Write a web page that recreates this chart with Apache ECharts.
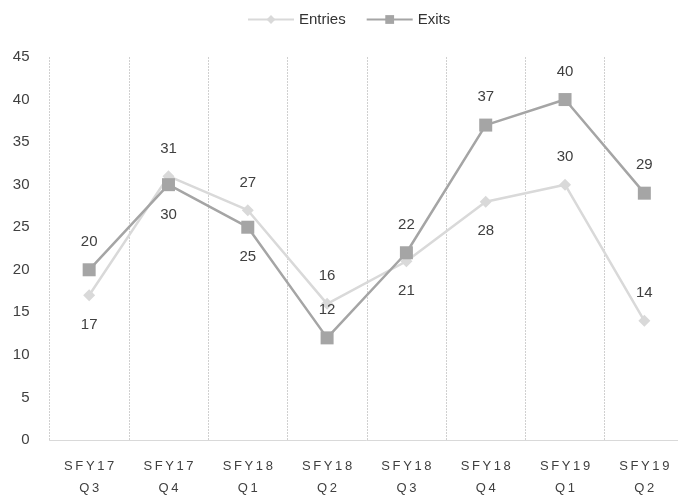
<!DOCTYPE html>
<html>
<head>
<meta charset="utf-8">
<script src="https://cdn.jsdelivr.net/npm/echarts@6/dist/echarts.min.js"></script>
<style>
  html, body { margin: 0; padding: 0; background: #fff; overflow: hidden; }
  #wrap { width: 678px; height: 499px; overflow: hidden; position: relative; }
  #chart { width: 684px; height: 499px; position: absolute; left: 0; top: 0; }
</style>
</head>
<body>
<div id="wrap"><div id="chart"></div></div>
<script>
const categories = ["SFY17 Q3", "SFY17 Q4", "SFY18 Q1", "SFY18 Q2", "SFY18 Q3", "SFY18 Q4", "SFY19 Q1", "SFY19 Q2"];
const entries = [17, 31, 27, 16, 21, 28, 30, 14];
const exits = [20, 30, 25, 12, 22, 37, 40, 29];
const yTicks = { min: 0, max: 45, interval: 5 };

// where each data label sits relative to its point
const entriesLabelPos = ["bottom", "top", "top", "top", "bottom", "bottom", "top", "top"];
const exitsLabelPos = ["top", "bottom", "bottom", "top", "top", "top", "top", "top"];

const font = "Liberation Sans";
const textColor = "#404040";

function spaced(s) {
  // the reference category labels are letter-spaced
  return s.split(" ").map(w => w.split("").join("\u2009")).join("\n");
}

function buildData(values, positions) {
  return values.map((v, i) => ({
    value: v,
    label: { position: positions[i], distance: positions[i] === "top" ? 14 : 16 }
  }));
}

const chart = echarts.init(document.getElementById("chart"));
chart.setOption({
  animation: false,
  textStyle: { fontFamily: font },
  legend: {
    top: 7,
    left: 242,
    itemWidth: 46,
    itemHeight: 11,
    itemGap: 20,
    textStyle: { fontFamily: font, fontSize: 15, color: "#333" },
    data: ["Entries", "Exits"]
  },
  grid: { left: 49.5, right: 0, top: 57, bottom: 57 },
  xAxis: {
    type: "category",
    data: categories,
    boundaryGap: true,
    axisLine: { lineStyle: { color: "#d9d9d9", width: 1 } },
    axisTick: { show: false },
    splitLine: { show: true, lineStyle: { color: "#d0d0d0", type: [2, 1], width: 1 } },
    axisLabel: {
      margin: 15,
      fontFamily: font,
      fontSize: 13,
      color: textColor,
      lineHeight: 22,
      formatter: spaced
    }
  },
  yAxis: {
    type: "value",
    min: yTicks.min,
    max: yTicks.max,
    interval: yTicks.interval,
    axisLine: { show: false },
    axisTick: { show: false },
    splitLine: { show: false },
    axisLabel: { margin: 20, fontFamily: font, fontSize: 15, color: textColor }
  },
  series: [
    {
      name: "Entries",
      type: "line",
      data: buildData(entries, entriesLabelPos),
      symbol: "diamond",
      symbolSize: 12,
      lineStyle: { color: "#d9d9d9", width: 2.5 },
      itemStyle: { color: "#d9d9d9" },
      label: { show: true, fontFamily: font, fontSize: 15, color: textColor },
      z: 2
    },
    {
      name: "Exits",
      type: "line",
      data: buildData(exits, exitsLabelPos),
      symbol: "rect",
      symbolSize: 13,
      lineStyle: { color: "#a5a5a5", width: 2.5 },
      itemStyle: { color: "#a5a5a5" },
      label: { show: true, fontFamily: font, fontSize: 15, color: textColor },
      z: 3
    }
  ]
});
</script>
</body>
</html>
